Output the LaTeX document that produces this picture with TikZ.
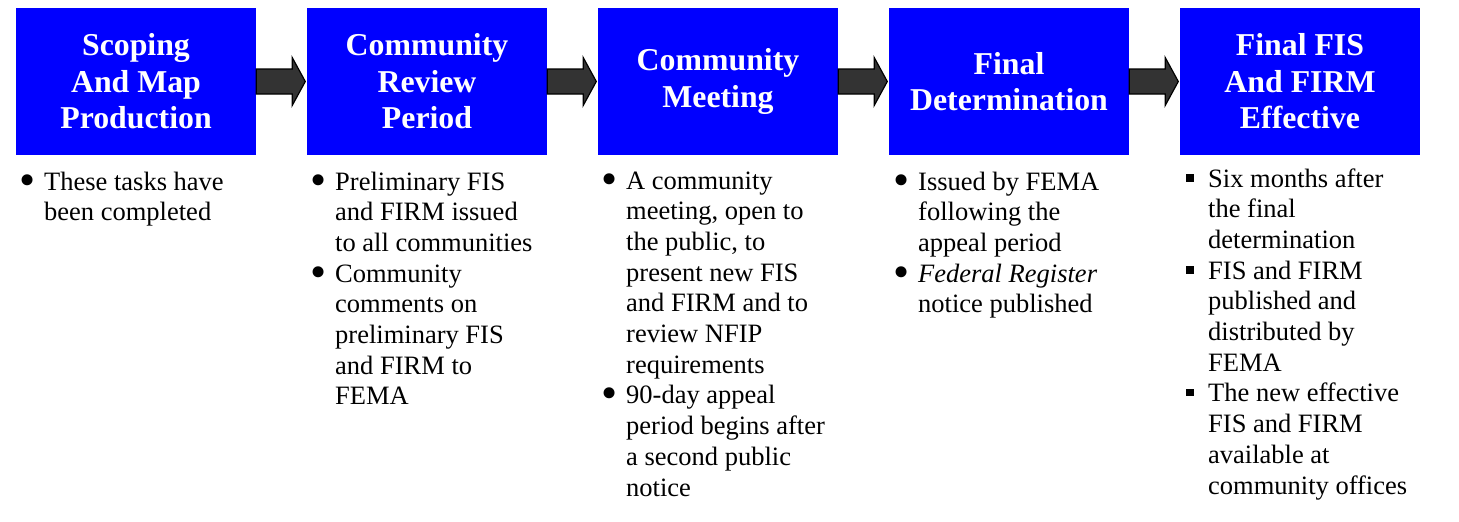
\documentclass[tikz,border=0pt]{standalone}
\usepackage{fontspec}
\setmainfont{Liberation Serif}
\usetikzlibrary{calc}
\definecolor{boxblue}{RGB}{0,0,255}
\definecolor{arrgray}{RGB}{51,51,51}
\newcommand\mybul{\makebox[23pt][l]{\hspace*{-2pt}\raisebox{-5pt}{\fontsize{46}{46}\selectfont\textbullet}}}
\newcommand\mysq{\makebox[22pt][l]{\rule[5.5pt]{7.5pt}{7.5pt}}}
\newcommand\myind{\hspace*{23pt}}
\newcommand\myindq{\hspace*{22pt}}
\tikzset{
  x=1pt, y=-1pt,
  stage/.style={fill=boxblue, draw=none, minimum width=240pt, minimum height=147pt,
    inner sep=0pt, align=center, text=white,
    font=\fontsize{31.8}{36.5}\selectfont\bfseries},
  body/.style={anchor=base west, inner sep=0pt,
    font=\fontsize{26.5}{30.7}\selectfont},
  blockarrow/.style={fill=arrgray, draw=black, line width=1.2pt, line join=miter}
}
\begin{document}
\begin{tikzpicture}
\useasboundingbox (0,0) rectangle (1459,522);
\node[stage] (b1) at (136,81.5) {Scoping\\And Map\\Production};
\node[stage] (b2) at (427,81.5) {Community\\Review\\Period};
\node[stage] (b3) at (718,81.5) {Community\\Meeting};
\node[stage] (b4) at (1009,81.5) {Final\\Determination};
\node[stage] (b5) at (1300,81.5) {Final FIS\\And FIRM\\Effective};

\foreach \a/\b in {b1/b2,b2/b3,b3/b4,b4/b5}{
  \draw[blockarrow] ($(\a.east)+(0,-12.5)$) -- ($(\a.east)+(36,-12.5)$)
     -- ($(\a.east)+(36,-24)$) -- ($(\b.west)+(-1.5,0)$)
     -- ($(\a.east)+(36,24)$) -- ($(\a.east)+(36,12.5)$)
     -- ($(\a.east)+(0,12.5)$) -- cycle;
}

\node[body] (t1) at (21,190) {\begin{tabular}[t]{@{}l@{}}
\mybul These tasks have\\
\myind been completed
\end{tabular}};

\node[body] (t2) at (312,190) {\begin{tabular}[t]{@{}l@{}}
\mybul Preliminary FIS\\
\myind and FIRM issued\\
\myind to all communities\\
\mybul Community\\
\myind comments on\\
\myind preliminary FIS\\
\myind and FIRM to\\
\myind FEMA
\end{tabular}};

\node[body] (t3) at (603,189) {\begin{tabular}[t]{@{}l@{}}
\mybul A community\\
\myind meeting, open to\\
\myind the public, to\\
\myind present new FIS\\
\myind and FIRM and to\\
\myind review NFIP\\
\myind requirements\\
\mybul 90-day appeal\\
\myind period begins after\\
\myind a second public\\
\myind notice
\end{tabular}};

\node[body] (t4) at (895,190) {\begin{tabular}[t]{@{}l@{}}
\mybul Issued by FEMA\\
\myind following the\\
\myind appeal period\\
\mybul \textit{Federal Register}\\
\myind notice published
\end{tabular}};

\node[body] (t5) at (1186,187) {\begin{tabular}[t]{@{}l@{}}
\mysq Six months after\\
\myindq the final\\
\myindq determination\\
\mysq FIS and FIRM\\
\myindq published and\\
\myindq distributed by\\
\myindq FEMA\\
\mysq The new effective\\
\myindq FIS and FIRM\\
\myindq available at\\
\myindq community offices
\end{tabular}};
\end{tikzpicture}
\end{document}
